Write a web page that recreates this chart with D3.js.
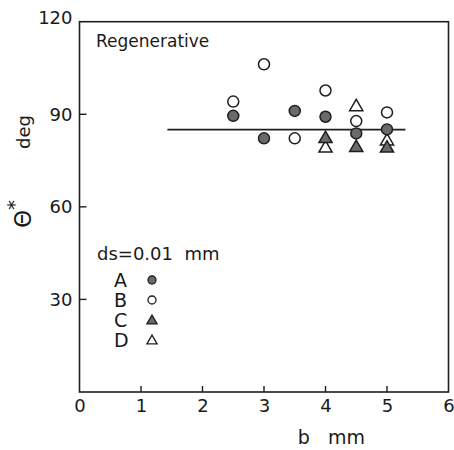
<!DOCTYPE html>
<html><head><meta charset="utf-8">
<script src="https://cdn.jsdelivr.net/npm/d3@7"></script>
<style>
html,body{margin:0;padding:0;background:#fff;}
text{font-family:"DejaVu Sans",sans-serif;fill:#1a1a1a;}
</style></head>
<body>
<svg id="chart" width="454" height="450"></svg>
<script>
// Data
const xTicks = [0,1,2,3,4,5,6];
const yTicks = [30,60,90,120];
const seriesA_b = [2.5,3,3.5,4,4.5,5];
const seriesA_theta = [89.5,82.2,91.1,89.2,83.8,85.1];
const seriesB_b = [2.5,3,3.5,4,4.5,5];
const seriesB_theta = [94.1,106.2,82.2,97.7,87.8,90.6];
const seriesC_b = [4,4.5,5];
const seriesC_theta = [82.4,79.5,79.3];
const seriesD_b = [4,4.5,5];
const seriesD_theta = [79.3,92.7,81.6];
const meanLine_b = [1.43,5.3];
const meanLine_theta = [85,85];
const legendLabels = ["A","B","C","D"];

const svg = d3.select("#chart");
const x = d3.scaleLinear().domain([0,6]).range([79.5,448.5]);
const y = d3.scaleLinear().domain([0,120]).range([392,21.7]);
const ink = "#1e1e1e";

// frame
svg.append("rect").attr("x",x(0)).attr("y",y(120)).attr("width",x(6)-x(0)).attr("height",y(0)-y(120))
  .attr("fill","none").attr("stroke",ink).attr("stroke-width",1.6);

// x ticks (inward)
const xAxis = d3.axisBottom(x).tickValues(xTicks).tickSize(0).tickFormat(d=>d);
const gx = svg.append("g").attr("transform",`translate(0,${y(0)})`).call(xAxis);
gx.select(".domain").remove();
gx.selectAll("text").attr("font-size",18).attr("dy","0.71em").attr("y",7).attr("fill","#1a1a1a");
svg.selectAll(".xt").data(xTicks.filter(d=>d>0&&d<6)).enter().append("line")
  .attr("x1",d=>x(d)).attr("x2",d=>x(d)).attr("y1",y(0)).attr("y2",y(0)-6)
  .attr("stroke",ink).attr("stroke-width",1.4);

// y ticks (inward)
const yAxis = d3.axisLeft(y).tickValues(yTicks).tickSize(0).tickFormat(d=>d);
const gy = svg.append("g").attr("transform",`translate(${x(0)-7},0)`).call(yAxis);
gy.select(".domain").remove();
gy.selectAll("text").attr("font-size",18).attr("x",0).attr("fill","#1a1a1a");
gy.selectAll(".tick").filter(d=>d===120).select("text").attr("dy","0.1em");
svg.selectAll(".yt").data(yTicks.filter(d=>d<120)).enter().append("line")
  .attr("x1",x(0)).attr("x2",x(0)+7).attr("y1",d=>y(d)).attr("y2",d=>y(d))
  .attr("stroke",ink).attr("stroke-width",1.4);

// axis titles
svg.append("text").attr("x",x(3.55)).attr("y",444).attr("font-size",19)
  .attr("xml:space","preserve").text("b   mm");
svg.append("text").attr("transform","translate(30,132) rotate(-90)")
  .attr("text-anchor","middle").attr("font-size",18).text("deg");
const yt = svg.append("text").attr("transform","translate(31,214) rotate(-90)")
  .attr("text-anchor","middle");
yt.append("tspan").attr("font-size",23).text("Θ");
yt.append("tspan").attr("dy","-0.5em").attr("font-size",20).text("*");

svg.append("text").attr("x",96).attr("y",47).attr("font-size",17).text("Regenerative");

// mean line
const line = d3.line().x(d=>x(d[0])).y(d=>y(d[1]));
svg.append("path").datum(d3.zip(meanLine_b,meanLine_theta)).attr("d",line)
  .attr("fill","none").attr("stroke",ink).attr("stroke-width",1.8);

// markers
const tri = (s)=>d3.symbol().type(d3.symbolTriangle).size(s)();
function circles(bs,ts,fill){
  svg.append("g").selectAll("circle").data(d3.zip(bs,ts)).enter().append("circle")
    .attr("cx",d=>x(d[0])).attr("cy",d=>y(d[1])).attr("r",5.5)
    .attr("fill",fill).attr("stroke",ink).attr("stroke-width",1.5);
}
function triangles(bs,ts,fill){
  svg.append("g").selectAll("path").data(d3.zip(bs,ts)).enter().append("path")
    .attr("transform",d=>`translate(${x(d[0])},${y(d[1])+1})`).attr("d",tri(75))
    .attr("fill",fill).attr("stroke",ink).attr("stroke-width",1.5);
}
circles(seriesB_b,seriesB_theta,"#fff");
triangles(seriesD_b,seriesD_theta,"#fff");
circles(seriesA_b,seriesA_theta,"#6a6a6a");
triangles(seriesC_b,seriesC_theta,"#6a6a6a");

// legend
svg.append("text").attr("x",97).attr("y",260).attr("font-size",18)
  .attr("xml:space","preserve").text("ds=0.01  mm");
const ly = [280,300,320,340];
legendLabels.forEach((l,i)=>{
  svg.append("text").attr("x",114).attr("y",ly[i]).attr("dy","0.36em").attr("font-size",19).text(l);
});
const lx = 152;
svg.append("circle").attr("cx",lx).attr("cy",ly[0]).attr("r",4).attr("fill","#6a6a6a").attr("stroke",ink).attr("stroke-width",1.3);
svg.append("circle").attr("cx",lx).attr("cy",ly[1]).attr("r",4).attr("fill","#fff").attr("stroke",ink).attr("stroke-width",1.3);
svg.append("path").attr("transform",`translate(${lx},${ly[2]+1})`).attr("d",tri(45)).attr("fill","#6a6a6a").attr("stroke",ink).attr("stroke-width",1.3);
svg.append("path").attr("transform",`translate(${lx},${ly[3]+1})`).attr("d",tri(45)).attr("fill","#fff").attr("stroke",ink).attr("stroke-width",1.3);
</script>
</body></html>
